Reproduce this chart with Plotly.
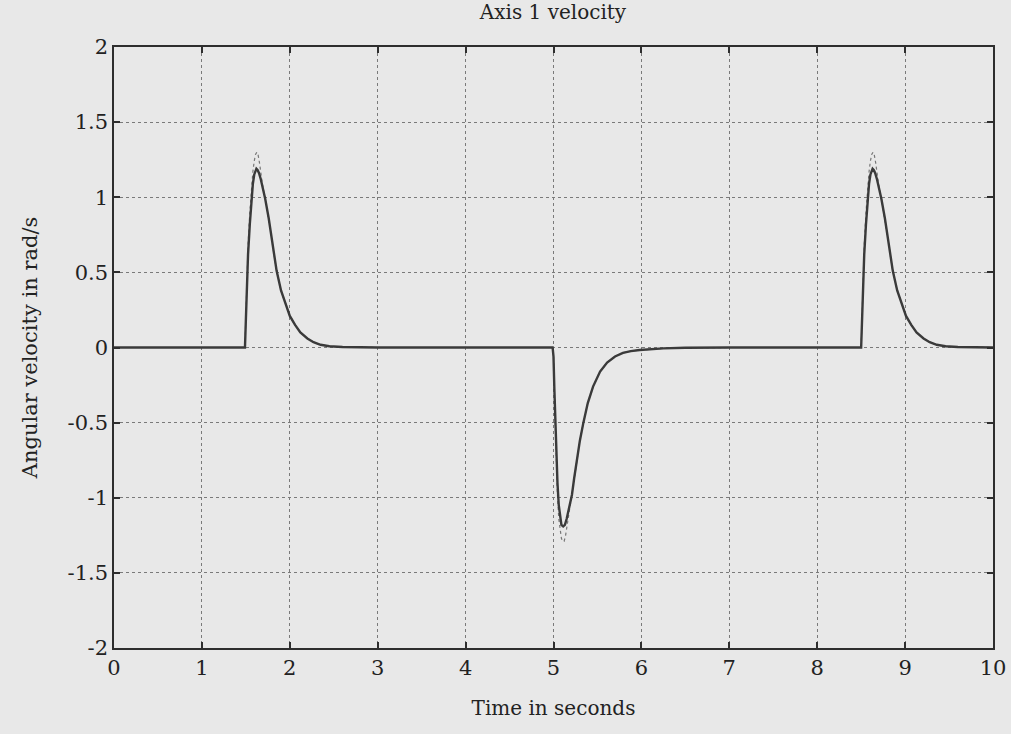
import plotly.graph_objects as go

# Time samples (s) and measured angular velocity (rad/s) - solid trace
t_actual = [0.0, 1.49, 1.50, 1.51, 1.525, 1.545, 1.565, 1.58, 1.595, 1.61, 1.62, 1.635, 1.65, 1.67, 1.69,
            1.72, 1.76, 1.79, 1.82, 1.85, 1.90, 1.945, 2.0, 2.06, 2.12, 2.2, 2.27, 2.35, 2.45, 2.6, 2.8, 3.0,
            4.99, 5.0, 5.01, 5.02, 5.03, 5.045, 5.06, 5.075, 5.09, 5.11, 5.13, 5.15, 5.18, 5.21, 5.235, 5.26,
            5.30, 5.34, 5.39, 5.45, 5.53, 5.61, 5.70, 5.79, 5.88, 5.98, 6.1, 6.25, 6.5, 7.0,
            8.50, 8.51, 8.52, 8.535, 8.555, 8.575, 8.59, 8.605, 8.62, 8.63, 8.645, 8.66, 8.68, 8.70,
            8.73, 8.77, 8.80, 8.83, 8.86, 8.91, 8.955, 9.01, 9.07, 9.13, 9.21, 9.28, 9.36, 9.46, 9.6, 9.8, 10.0]
v_actual = [0.0, 0.0, 0.18, 0.40, 0.62, 0.82, 1.00, 1.09, 1.15, 1.185, 1.19, 1.18, 1.16, 1.12, 1.07,
            0.99, 0.86, 0.74, 0.62, 0.51, 0.38, 0.30, 0.21, 0.15, 0.10, 0.06, 0.035, 0.018, 0.008, 0.003, 0.001, 0.0,
            0.0, -0.06, -0.28, -0.48, -0.68, -0.90, -1.05, -1.14, -1.18, -1.19, -1.18, -1.14, -1.07, -0.98, -0.87, -0.76,
            -0.62, -0.50, -0.37, -0.26, -0.16, -0.10, -0.06, -0.036, -0.024, -0.017, -0.011, -0.006, -0.002, 0.0,
            0.0, 0.18, 0.40, 0.62, 0.82, 1.00, 1.09, 1.15, 1.185, 1.19, 1.18, 1.16, 1.12, 1.07,
            0.99, 0.86, 0.74, 0.62, 0.51, 0.38, 0.30, 0.21, 0.15, 0.10, 0.06, 0.035, 0.018, 0.008, 0.003, 0.001, 0.0]

# Desired (reference) velocity - dotted trace
t_desired = [0.0, 1.49, 1.50, 1.51, 1.525, 1.545, 1.565, 1.58, 1.595, 1.61, 1.625, 1.64, 1.655, 1.67, 1.69,
             1.72, 1.76, 1.79, 1.82, 1.85, 1.90, 1.945, 2.0, 2.06, 2.12, 2.2, 2.27, 2.35, 2.45, 2.6, 2.8, 3.0,
             4.99, 5.0, 5.01, 5.02, 5.03, 5.045, 5.06, 5.075, 5.09, 5.105, 5.12, 5.135, 5.15, 5.17, 5.19, 5.21,
             5.235, 5.26, 5.30, 5.34, 5.39, 5.45, 5.53, 5.61, 5.70, 5.79, 5.88, 5.98, 6.1, 6.25, 6.5, 7.0,
             8.50, 8.51, 8.52, 8.535, 8.555, 8.575, 8.59, 8.605, 8.62, 8.635, 8.65, 8.665, 8.68, 8.70,
             8.73, 8.77, 8.80, 8.83, 8.86, 8.91, 8.955, 9.01, 9.07, 9.13, 9.21, 9.28, 9.36, 9.46, 9.6, 9.8, 10.0]
v_desired = [0.0, 0.0, 0.20, 0.44, 0.68, 0.90, 1.08, 1.17, 1.24, 1.285, 1.30, 1.28, 1.23, 1.16, 1.08,
             0.99, 0.86, 0.74, 0.62, 0.51, 0.38, 0.30, 0.21, 0.15, 0.10, 0.06, 0.035, 0.018, 0.008, 0.003, 0.001, 0.0,
             0.0, -0.06, -0.30, -0.52, -0.74, -0.98, -1.14, -1.23, -1.27, -1.29, -1.29, -1.26, -1.21, -1.13, -1.05, -0.98,
             -0.87, -0.76, -0.62, -0.50, -0.37, -0.26, -0.16, -0.10, -0.06, -0.036, -0.024, -0.017, -0.011, -0.006, -0.002, 0.0,
             0.0, 0.20, 0.44, 0.68, 0.90, 1.08, 1.17, 1.24, 1.285, 1.30, 1.28, 1.23, 1.16, 1.08,
             0.99, 0.86, 0.74, 0.62, 0.51, 0.38, 0.30, 0.21, 0.15, 0.10, 0.06, 0.035, 0.018, 0.008, 0.003, 0.001, 0.0]

x_ticks = [0, 1, 2, 3, 4, 5, 6, 7, 8, 9, 10]
x_labels = ["0", "1", "2", "3", "4", "5", "6", "7", "8", "9", "10"]
y_ticks = [-2, -1.5, -1, -0.5, 0, 0.5, 1, 1.5, 2]
y_labels = ["-2", "-1.5", "-1", "-0.5", "0", "0.5", "1", "1.5", "2"]

bg = "#e8e8e8"
ink = "#2e2e2e"
text_col = "#222222"
font_family = "DejaVu Serif, Liberation Serif, serif"

fig = go.Figure()
fig.add_trace(go.Scatter(x=t_desired, y=v_desired, mode="lines",
                         line=dict(color="#777777", width=1.2, dash="dot"),
                         showlegend=False))
fig.add_trace(go.Scatter(x=t_actual, y=v_actual, mode="lines",
                         line=dict(color="#3a3a3a", width=2.4),
                         showlegend=False))

axis_common = dict(showline=True, linecolor=ink, linewidth=1.5, mirror="ticks",
                   ticks="inside", ticklen=6, tickcolor=ink, tickwidth=1.5,
                   showgrid=True, gridcolor="#7a7a7a", gridwidth=1, griddash="dot",
                   zeroline=False, automargin=False,
                   tickfont=dict(family=font_family, size=21, color=text_col))

fig.update_xaxes(range=[0, 10], tickvals=x_ticks, ticktext=x_labels,
                 title=dict(text="Time in seconds", font=dict(family=font_family, size=20, color=text_col),
                            standoff=22),
                 **axis_common)
fig.update_yaxes(range=[-2, 2], tickvals=y_ticks, ticktext=y_labels,
                 title=dict(text="Angular velocity in rad/s", font=dict(family=font_family, size=21, color=text_col),
                            standoff=24),
                 **axis_common)

fig.update_layout(
    width=1011, height=734,
    paper_bgcolor=bg, plot_bgcolor=bg,
    margin=dict(l=114, r=18, t=47, b=86),
    title=dict(text="Axis 1 velocity", x=0.547, xanchor="center", y=1 - 12 / 734, yanchor="middle",
               font=dict(family=font_family, size=20, color=text_col)),
)

fig.write_html("out.html", config={"displayModeBar": False},
               post_script="document.body.style.margin='0px';document.body.style.overflow='hidden';")
